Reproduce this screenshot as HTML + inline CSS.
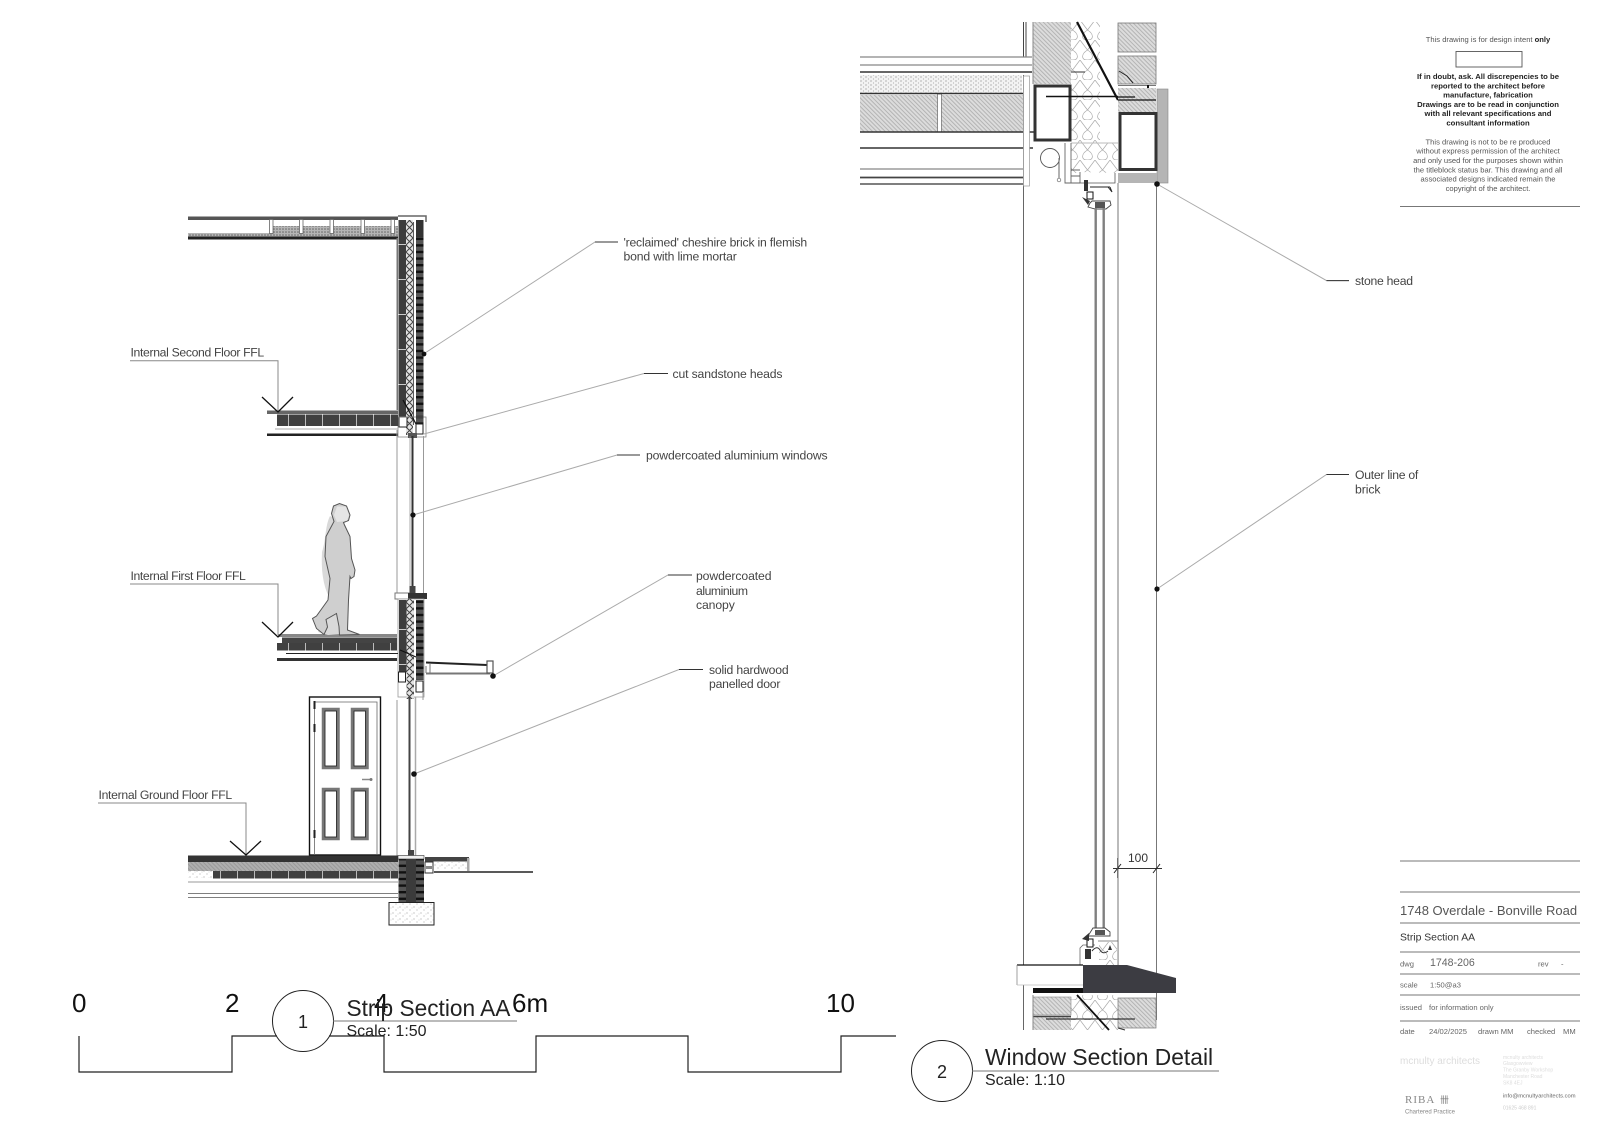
<!DOCTYPE html>
<html><head><meta charset="utf-8"><style>
html,body{margin:0;padding:0;background:#fff}
svg{display:block;font-family:"Liberation Sans",sans-serif}
.n{font-size:12.2px;fill:#444}
.l{stroke:#aaa;stroke-width:1;fill:none}
.k{stroke:#222;fill:none}
.g{stroke:#888;fill:none}
</style></head><body>
<svg width="1600" height="1131" viewBox="0 0 1600 1131" xmlns="http://www.w3.org/2000/svg">
<defs>
<pattern id="h" width="3" height="3" patternUnits="userSpaceOnUse" patternTransform="rotate(45)"><rect width="3" height="3" fill="#dcdcdc"/><path d="M0 1H3" stroke="#b0b0b0" stroke-width=".9"/></pattern>
<pattern id="s" width="5" height="4" patternUnits="userSpaceOnUse"><rect width="5" height="4" fill="#f2f2f2"/><circle cx="1" cy="1" r=".6" fill="#888"/><circle cx="3.5" cy="3" r=".5" fill="#999"/></pattern>
<pattern id="sd" width="3" height="3" patternUnits="userSpaceOnUse"><rect width="3" height="3" fill="#b5b5b5"/><circle cx="1" cy="1" r=".8" fill="#666"/></pattern>
<pattern id="sf" width="7" height="6" patternUnits="userSpaceOnUse"><rect width="7" height="6" fill="#fff"/><circle cx="1" cy="1" r=".5" fill="#777"/><circle cx="4" cy="4" r=".5" fill="#888"/><circle cx="6" cy="2" r=".4" fill="#999"/></pattern>
<pattern id="ins" width="15" height="20" patternUnits="userSpaceOnUse"><rect width="15" height="20" fill="#fff"/><path d="M0 0L7.5 10L15 0M7.5 10C1 14 1 20 7.5 20C14 20 14 14 7.5 10" fill="none" stroke="#aaa" stroke-width=".7"/></pattern>
<pattern id="insS" width="7" height="7" patternUnits="userSpaceOnUse"><rect width="7" height="7" fill="#e4e4e4"/><path d="M0 0L3.5 3.5L7 0M0 7L3.5 3.5L7 7" fill="none" stroke="#444" stroke-width="1"/></pattern>
<pattern id="brk" width="8" height="6.6" patternUnits="userSpaceOnUse"><rect width="8" height="6.6" fill="#555"/><rect y="0" width="8" height="2.4" fill="#111"/></pattern>
<pattern id="blk" width="8" height="35" patternUnits="userSpaceOnUse"><rect width="8" height="35" fill="#3d3d3d"/><rect y="34" width="8" height="1" fill="#ccc"/></pattern>
<pattern id="flr" width="17" height="12" patternUnits="userSpaceOnUse"><rect width="17" height="12" fill="#404040"/><rect x="16" width="1" height="12" fill="#bbb"/></pattern>
</defs>

<!-- SECTION 1: roof -->
<rect x="188" y="216.5" width="210" height="3.5" fill="#555"/>
<path d="M398 216H426V222" fill="none" stroke="#666" stroke-width="1.5"/>
<rect x="188" y="233" width="84" height="4" fill="url(#sd)"/>
<rect x="271" y="226" width="127" height="11" fill="url(#sd)"/>
<rect x="188" y="236.5" width="210" height="3" fill="#222"/>
<g fill="#fff" stroke="#666" stroke-width=".8"><rect x="269.5" y="219.5" width="3.5" height="14"/><rect x="299.5" y="219.5" width="3.5" height="14"/><rect x="330" y="219.5" width="3.5" height="14"/><rect x="361" y="219.5" width="3.5" height="14"/><rect x="391" y="219.5" width="3.5" height="14"/></g>

<!-- upper wall -->
<rect x="396.5" y="238" width="1.5" height="172" fill="#777"/>
<rect x="398.5" y="220" width="7.5" height="197" fill="url(#blk)"/>
<rect x="406" y="220" width="7" height="215" fill="url(#insS)"/>
<rect x="416" y="237" width="7.5" height="188" fill="url(#brk)"/>
<rect x="416" y="220" width="7.5" height="17" fill="#333"/>
<path d="M413.5 222V425" stroke="#333" fill="none" stroke-width=".8"/>
<path d="M403 400L416 424" stroke="#111" stroke-width="1.3" fill="none"/>
<!-- head -->
<rect x="399" y="417" width="8" height="10" fill="#fff" stroke="#222"/>
<rect x="416" y="424" width="7" height="10" fill="#fff" stroke="#222"/>
<rect x="398" y="417" width="28" height="20" fill="none" stroke="#888" stroke-width=".8"/>
<rect x="408" y="433" width="9" height="5" fill="#555"/>

<!-- floor 2 -->
<rect x="267" y="410.5" width="131" height="3.5" fill="#666"/>
<rect x="277" y="414.5" width="121" height="11.5" fill="url(#flr)"/>
<path d="M275 429H398" stroke="#aaa" fill="none"/>
<rect x="267" y="433.5" width="131" height="2.5" fill="#222"/>
<path d="M130 360.7H278V412" class="g"/>
<path d="M262 397L278 412L293 397" stroke="#111" stroke-width="1.3" fill="none"/>
<text x="130.5" y="356.5" class="n" textLength="133.7">Internal Second Floor FFL</text>

<!-- window storey -->
<path d="M397 430V595M423.5 436V595" stroke="#999" fill="none"/>
<path d="M412.5 436V586" stroke="#333" stroke-width="2" fill="none"/>
<path d="M410 436V586" stroke="#888" stroke-width=".7" fill="none"/>

<!-- cill -->
<rect x="395" y="593" width="14" height="6" fill="#fff" stroke="#777"/>
<rect x="408" y="593" width="19" height="6" fill="#333"/>
<rect x="409.5" y="586" width="6" height="7" fill="#444"/>
<!-- lower wall -->
<rect x="398" y="599" width="26" height="98" fill="#fff" stroke="#999" stroke-width=".8"/>
<rect x="399" y="600" width="7.5" height="72" fill="url(#blk)"/>
<rect x="406.5" y="599" width="7.5" height="100" fill="url(#insS)"/>
<rect x="416" y="600" width="7.5" height="80" fill="url(#brk)"/>
<path d="M400 650L416 657" stroke="#111" fill="none"/>
<rect x="398.5" y="672" width="7" height="10" fill="#fff" stroke="#222"/>
<rect x="416" y="681" width="7" height="11" fill="#fff" stroke="#222"/>
<!-- canopy -->
<path d="M426 662.5L487 665" stroke="#222" stroke-width="2" fill="none"/>
<path d="M426 673.5H490" stroke="#777" stroke-width="2" fill="none"/>
<path d="M426 666V673M430 664V673" stroke="#777" fill="none"/>
<rect x="487" y="661" width="6" height="12" fill="#fff" stroke="#555" stroke-width="1.2"/>

<!-- floor 1 -->
<rect x="278" y="634" width="119" height="3" fill="#888"/>
<rect x="282" y="637.5" width="115" height="5.5" fill="#444"/>
<rect x="277" y="643" width="120" height="7.5" fill="url(#flr)"/>
<path d="M286 653.5H398" stroke="#222" fill="none"/>
<rect x="277" y="658" width="120" height="3" fill="#333"/>
<path d="M130 584H278V635" class="g"/>
<path d="M262 622L278 637L293 622" stroke="#111" stroke-width="1.3" fill="none"/>
<text x="130.5" y="580" class="n" textLength="115.3">Internal First Floor FFL</text>

<!-- person -->
<path d="M330 516C325 526 326 540 322 552C321 570 323 585 329 597C326 610 326 620 318 632L328 635L340 634L340 600L340 545L338 520Z" fill="#d9d9d9"/>
<path d="M331.5 513.5L333.5 506L339.5 503.5L346.5 506L350 515L348.5 520.5L343.5 522.5L344.5 525L350 536.5L351.5 558.5L355 570L354 576.5L351 578.5L350 576.5L348.5 600L347.5 630L359.5 634.5L339.5 635L339 626.5L336.5 613.5L326 619.5L327.5 627L324 634.5L316.5 628.5L312.5 618.5L316.5 616L328 600L330 578.5L325 556.5L326 536.5L334 521.5Z" fill="#cfcfcf" stroke="#555" stroke-width="1"/>
<path d="M334 515L337 506.5L346 506.5L349 515L347 521L337 522Z" fill="#fff" opacity=".45"/>

<!-- door storey -->
<path d="M397 700V856M423 692V700" stroke="#999" fill="none"/>
<path d="M409.5 697V856" stroke="#444" stroke-width="2" fill="none"/>
<path d="M415.5 697V856" stroke="#aaa" stroke-width="1.5" fill="none"/>
<rect x="309.5" y="697" width="71" height="158" fill="#fff" stroke="#111" stroke-width="1.4"/>
<path d="M314.5 855V702H377V855" fill="none" stroke="#666" stroke-width=".8"/>
<g fill="#fff" stroke="#777" stroke-width="3.5"><rect x="323.5" y="709.5" width="14.5" height="58"/><rect x="352.5" y="709.5" width="14.5" height="58"/><rect x="323.5" y="789.5" width="14.5" height="49"/><rect x="352.5" y="789.5" width="14.5" height="49"/></g>
<g fill="none" stroke="#222" stroke-width=".8"><rect x="325" y="711" width="11.5" height="55"/><rect x="354" y="711" width="11.5" height="55"/><rect x="325" y="791" width="11.5" height="46"/><rect x="354" y="791" width="11.5" height="46"/></g>
<g fill="#222"><rect x="313.5" y="701" width="2" height="8"/><rect x="313.5" y="724" width="2" height="8"/><rect x="313.5" y="830" width="2" height="8"/></g>
<path d="M362 779.5H372" stroke="#888" stroke-width="1.5"/><circle cx="371" cy="779.5" r="1.5" fill="#777"/>

<!-- ground floor -->
<rect x="188" y="855.5" width="210" height="6.5" fill="#333"/>
<rect x="188" y="862" width="210" height="9" fill="url(#h)"/>
<rect x="188" y="862" width="210" height="9" fill="#777" opacity=".45"/>
<rect x="213" y="871" width="185" height="7.5" fill="url(#flr)"/>
<rect x="188" y="871" width="25" height="7" fill="url(#sf)"/>
<path d="M188 882H398" stroke="#999" fill="none"/>
<path d="M188 893.5H398M188 897.5H398" stroke="#555" fill="none" stroke-width=".8"/>
<path d="M98 803H246V855" class="g"/>
<path d="M230 841L246 855L261 841" stroke="#111" stroke-width="1.3" fill="none"/>
<text x="98.5" y="799" class="n" textLength="133.7">Internal Ground Floor FFL</text>
<!-- foundation -->
<rect x="398.5" y="859" width="8" height="43" fill="url(#brk)"/>
<rect x="406" y="859" width="10" height="43" fill="#3b3b3b"/>
<rect x="416" y="859" width="8" height="43" fill="url(#brk)"/>
<rect x="389" y="902.5" width="45" height="22.5" fill="url(#sf)" stroke="#222" stroke-width="1"/>
<rect x="398" y="855.5" width="26" height="3.5" fill="#eee" stroke="#333" stroke-width=".6"/>
<rect x="408" y="850" width="6" height="5.5" fill="#444"/>
<rect x="425" y="857" width="44" height="4.5" fill="#444"/>
<rect x="433" y="862" width="34" height="8.5" fill="url(#sf)"/>
<rect x="467" y="858" width="2.5" height="13" fill="#aaa"/>
<rect x="425" y="862" width="8" height="11" fill="#fff" stroke="#333"/>
<rect x="426" y="866" width="6" height="3" fill="#888"/>
<path d="M434 872H533" stroke="#222" stroke-width="1.6"/>

<!-- leaders section 1 -->
<g class="l">
<path d="M423.5 354L595 242H618"/>
<path d="M424 434L644 373.5H668"/>
<path d="M413 515L617 455H640"/>
<path d="M493 676L668 575H692"/>
<path d="M414 774L679 669.5H703"/>
</g>
<path d="M595 242H618M644 373.5H668M617 455H640M668 575H692M679 669.5H703" stroke="#333" fill="none"/>
<g fill="#111"><circle cx="424" cy="354" r="2.4"/><circle cx="413" cy="515" r="2.6"/><circle cx="493" cy="676" r="2.8"/><circle cx="414" cy="774" r="2.8"/></g>
<text x="623.5" y="246.5" class="n" textLength="183.7">'reclaimed' cheshire brick in flemish</text>
<text x="623.5" y="260.5" class="n" textLength="113.3">bond with lime mortar</text>
<text x="672.5" y="378" class="n" textLength="110">cut sandstone heads</text>
<text x="646" y="459.5" class="n" textLength="181.6">powdercoated aluminium windows</text>
<text x="696" y="580" class="n" textLength="75.5">powdercoated</text>
<text x="696" y="595" class="n" textLength="52">aluminium</text>
<text x="696" y="609" class="n" textLength="38.8">canopy</text>
<text x="709" y="674" class="n" textLength="79.6">solid hardwood</text>
<text x="709" y="688" class="n" textLength="71.4">panelled door</text>

<!-- scale bar -->
<path d="M79 1036V1072H232V1036H384V1072H536V1036H688V1072H841V1036H896" fill="none" stroke="#222" stroke-width="1.2"/>
<g font-size="26" fill="#111"><text x="72" y="1012">0</text><text x="225" y="1012">2</text><text x="374" y="1012">4</text><text x="512" y="1012">6m</text><text x="826" y="1012">10</text></g>
<rect x="277" y="1034" width="52" height="4" fill="#fff"/>
<circle cx="303" cy="1021" r="30.5" fill="none" stroke="#222" stroke-width="1"/>
<path d="M333 1021H517" stroke="#777"/>
<text x="303" y="1028" font-size="18" text-anchor="middle" fill="#222">1</text>
<text x="346.5" y="1016" font-size="22.7" fill="#222">Strip Section AA</text>
<text x="346.5" y="1036" font-size="16" fill="#222">Scale: 1:50</text>

<circle cx="942" cy="1071" r="30.5" fill="#fff" stroke="#222" stroke-width="1"/>
<text x="942" y="1078" font-size="18" text-anchor="middle" fill="#222">2</text>
<path d="M972 1071H1219" stroke="#777"/>
<text x="985" y="1065" font-size="22.8" fill="#222">Window Section Detail</text>
<text x="985" y="1085" font-size="16" fill="#222">Scale: 1:10</text>

<!-- SECTION 2 top -->
<g fill="none">
<path d="M1023.5 22V57M1026 22V57" stroke="#444" stroke-width="1"/>
<path d="M860 57H1032M860 65H1032" stroke="#888" stroke-width="1.2"/>
<path d="M860 72H1032" stroke="#333" stroke-width="1.4"/>
</g>
<rect x="860" y="75" width="162" height="18" fill="url(#s)"/>
<rect x="860" y="95" width="163" height="37" fill="url(#h)"/>
<rect x="937.5" y="94" width="4" height="38" fill="#fff" stroke="#666" stroke-width=".7"/>
<path d="M860 93.5H1023M860 132H1034M860 148H1033" stroke="#333" stroke-width="1.4" fill="none"/>
<path d="M860 169H1023" stroke="#888" stroke-width="1.2"/>
<path d="M860 177.5H1023" stroke="#444" stroke-width="1.8"/>
<path d="M860 184H1023" stroke="#333" stroke-width="1.2"/>
<path d="M1023.5 75V1030" stroke="#555" stroke-width=".9" fill="none"/>
<rect x="1023.5" y="76" width="6" height="110" fill="#fff" stroke="#999" stroke-width=".7"/>
<rect x="1033" y="22" width="38" height="62" fill="url(#h)"/>
<path d="M1033 22V84" stroke="#888"/>
<rect x="1071" y="22" width="29" height="121" fill="url(#ins)"/>
<rect x="1071" y="143" width="47" height="30" fill="url(#ins)"/>
<path d="M1071 143H1118" stroke="#bbb"/>
<path d="M1077 22L1118 100" stroke="#111" stroke-width="2.2" fill="none"/>
<rect x="1035" y="86" width="35" height="54" fill="#fff" stroke="#333" stroke-width="3"/>
<path d="M1046 96.5H1135M1118 100H1156" stroke="#111" stroke-width="1.4" fill="none"/>
<path d="M1071 72H1085" stroke="#333" fill="none"/>
<rect x="1118" y="23" width="38" height="29" fill="url(#h)" stroke="#777" stroke-width=".8"/>
<rect x="1118" y="56" width="38" height="28" fill="url(#h)" stroke="#777" stroke-width=".8"/>
<path d="M1119 71L1127 76L1133 83" stroke="#222" fill="none"/>
<rect x="1118" y="88" width="38" height="24" fill="url(#h)"/>
<path d="M1118 85.5H1156" stroke="#777"/>
<path d="M1118 100H1156M1118 97H1135" stroke="#111" stroke-width="1.3"/>
<rect x="1147" y="85" width="2" height="3" fill="#111"/>
<rect x="1157" y="89" width="11" height="94" fill="#b5b5b5" stroke="#888" stroke-width=".6"/>
<rect x="1118" y="173" width="39" height="10" fill="#b5b5b5"/>
<rect x="1120" y="113.5" width="36" height="56" fill="#fff" stroke="#333" stroke-width="3"/>
<circle cx="1050" cy="158" r="9.5" fill="#fff" stroke="#555" stroke-width=".9"/>
<path d="M1059 158V178" stroke="#666" fill="none"/><circle cx="1059" cy="180" r="1.8" fill="#fff" stroke="#666" stroke-width=".7"/>
<path d="M1065 143V183H1080M1071 143V183M1071 170H1080M1071 176H1080" stroke="#666" fill="none" stroke-width=".9"/>
<path d="M1080 172V183H1115V173" fill="#fff" stroke="#555" stroke-width=".8"/>
<!-- head frame -->
<g fill="#333"><rect x="1084" y="180" width="4" height="11"/><rect x="1087" y="192" width="6" height="7" stroke="#111" fill="#fff"/><path d="M1082 197L1090 201L1088 205Z"/></g>
<path d="M1090 187H1110M1110 187L1112 192L1108 187" stroke="#222" fill="none"/>
<path d="M1092 201H1110L1111 205L1106 209H1095L1088 207L1090 203Z" fill="#fff" stroke="#444" stroke-width=".9"/>
<rect x="1095" y="202" width="10" height="6" fill="#555"/>

<!-- long verticals -->
<path d="M1118 183V965M1156.5 183V1020" stroke="#777" stroke-width="1" fill="none"/>
<rect x="1094.5" y="208" width="2.4" height="720" fill="#808080"/>
<rect x="1102.5" y="208" width="2.4" height="720" fill="#808080"/>

<!-- dot leaders section 2 -->
<path d="M1157 184L1326.5 280.6H1349" class="l"/>
<path d="M1157 589L1326.5 474.5H1349" class="l"/>
<path d="M1326.5 280.6H1349M1326.5 474.5H1349" stroke="#333" fill="none"/>
<circle cx="1157" cy="184" r="2.8" fill="#111"/><circle cx="1157" cy="589" r="2.6" fill="#111"/>
<text x="1355" y="285" class="n" textLength="58">stone head</text>
<text x="1355" y="479" class="n" textLength="63.3">Outer line of</text>
<text x="1355" y="493.5" class="n" textLength="25.5">brick</text>

<!-- dimension -->
<path d="M1113 868.5H1162" stroke="#333" fill="none" stroke-width=".9"/>
<path d="M1114 873L1121 864M1153 873L1160 864" stroke="#222" fill="none" stroke-width="1"/>
<path d="M1117.5 858V878" stroke="#555" fill="none" stroke-width=".7"/>
<text x="1128" y="862" font-size="12" fill="#333">100</text>

<!-- bottom frame -->
<path d="M1080 965V948L1083 945H1095M1098 941H1118V965" fill="#fff" stroke="#666" stroke-width=".8"/>
<rect x="1099" y="942" width="18" height="23" fill="url(#ins)"/>
<path d="M1088 936L1093 928H1105L1110 932V936Z" fill="#fff" stroke="#444" stroke-width=".9"/>
<rect x="1095" y="930" width="10" height="5" fill="#555"/>
<g fill="#333"><rect x="1087" y="939" width="6" height="8" stroke="#111" fill="#fff"/><rect x="1085" y="949" width="6" height="10"/><path d="M1082 939L1089 933L1089 941Z"/><path d="M1108 950L1112 950L1110 945Z"/></g>
<path d="M1092 951Q1097 945 1100 950T1108 951" stroke="#333" fill="none"/>
<!-- cill -->
<path d="M1017 965H1083V985H1017Z" fill="#fff"/>
<path d="M1017 965H1083" stroke="#111" stroke-width="1.2"/>
<path d="M1017 965V985" stroke="#888" stroke-width=".8"/>
<path d="M1017 985H1083" stroke="#bbb" stroke-width=".8"/>
<rect x="1033" y="988" width="50" height="5" fill="#111"/>
<path d="M1083 965H1127L1176 978V993H1083Z" fill="#3c3c42"/>
<!-- below cill -->
<rect x="1071" y="995" width="47" height="35" fill="url(#ins)"/>
<rect x="1033" y="997" width="38" height="18" fill="url(#h)" stroke="#888" stroke-width=".6"/>
<rect x="1033" y="1017" width="38" height="13" fill="url(#h)"/>
<path d="M1033 1016.5H1071" stroke="#444" stroke-width="1.6"/>
<rect x="1118" y="998" width="38" height="30" fill="url(#h)" stroke="#777" stroke-width=".7"/>
<path d="M1077 995L1109 1030" stroke="#111" stroke-width="1.8" fill="none"/>
<path d="M1046 1019H1135" stroke="#111" stroke-width="1.1"/>
<path d="M1118 1028L1125 1030" stroke="#333"/>
<path d="M1033 995V1030" stroke="#888"/>

<!-- title block top -->
<g font-size="7.6" text-anchor="middle" fill="#555">
<text x="1488" y="42">This drawing is for design intent <tspan font-weight="bold" fill="#222">only</tspan></text>
<g font-weight="bold" fill="#222" font-size="7.7">
<text x="1488" y="79">If in doubt, ask. All discrepencies to be</text>
<text x="1488" y="88.3">reported to the architect before</text>
<text x="1488" y="97.5">manufacture, fabrication</text>
<text x="1488" y="106.8">Drawings are to be read in conjunction</text>
<text x="1488" y="116.2">with all relevant specifications and</text>
<text x="1488" y="125.5">consultant information</text></g>
<text x="1488" y="144.5">This drawing is not to be re produced</text>
<text x="1488" y="153.7">without express permission of the architect</text>
<text x="1488" y="163">and only used for the purposes shown within</text>
<text x="1488" y="172.5">the titleblock status bar. This drawing and all</text>
<text x="1488" y="181.7">associated designs indicated remain the</text>
<text x="1488" y="191">copyright of the architect.</text>
</g>
<rect x="1456" y="51.5" width="66" height="15.5" fill="none" stroke="#555" stroke-width=".9"/>
<path d="M1400 206.5H1580M1400 861H1580M1400 892H1580M1400 923H1580M1400 952H1580M1400 974H1580M1400 995H1580M1400 1021H1580" stroke="#777" fill="none"/>

<text x="1400" y="915" font-size="13" fill="#555">1748 Overdale - Bonville Road</text>
<text x="1400" y="940.5" font-size="10.4" fill="#333">Strip Section AA</text>
<g font-size="7.6" fill="#666">
<text x="1400" y="966.5">dwg</text><text x="1538" y="966.5">rev</text><text x="1561" y="966.5">-</text>
<text x="1400" y="987.5">scale</text><text x="1430" y="987.5">1:50@a3</text>
<text x="1400" y="1010">issued</text><text x="1429" y="1010">for information only</text>
<text x="1400" y="1034">date</text><text x="1429" y="1034">24/02/2025</text><text x="1478" y="1034">drawn MM</text><text x="1527" y="1034">checked</text><text x="1563" y="1034">MM</text>
</g>
<text x="1430" y="966" font-size="10.6" fill="#666">1748-206</text>
<text x="1400" y="1064" font-size="10" fill="#ddd">mcnulty architects</text>
<g font-size="5" fill="#ddd"><text x="1503" y="1059">mcnulty architects</text><text x="1503" y="1065">Glasgowview</text><text x="1503" y="1071.5">The Granby Workshop</text><text x="1503" y="1078">Manchester Road</text><text x="1503" y="1084.5">SK8 4EJ</text><text x="1503" y="1109.5" fill="#ccc">01625 468 891</text></g>
<text x="1503" y="1097.5" font-size="5.8" fill="#666">info@mcnultyarchitects.com</text>
<text x="1405" y="1103" font-size="11" letter-spacing="1" font-family="Liberation Serif,serif" fill="#888">RIBA</text>
<text x="1440" y="1103" font-size="9" font-family="Liberation Sans,Noto Sans CJK SC,sans-serif" fill="#777">卌</text>
<text x="1405" y="1113.5" font-size="6" fill="#888">Chartered Practice</text>
</svg>
</body></html>
